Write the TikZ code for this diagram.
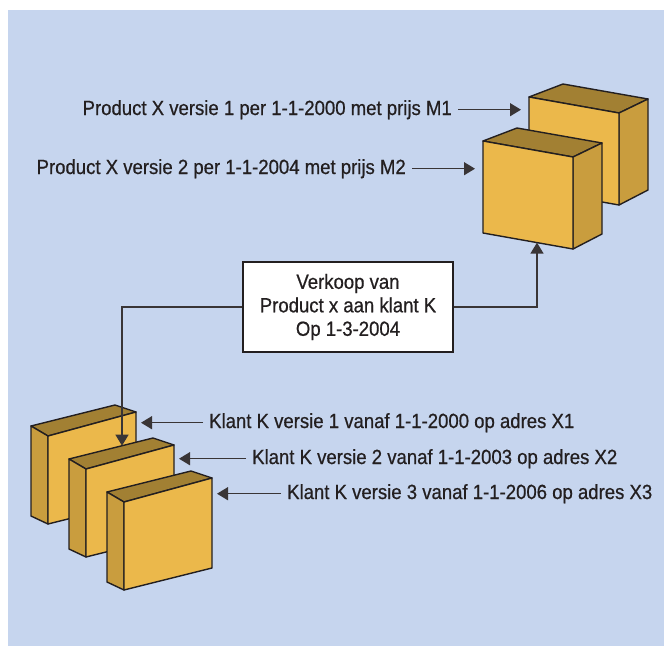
\documentclass[tikz,border=0pt]{standalone}
\usepackage{fontspec}
\setmainfont[FakeStretch=0.905, FakeBold=0.6]{Liberation Sans}
\usetikzlibrary{arrows.meta}

\definecolor{bgblue}{HTML}{C6D5EE}
\definecolor{boxfront}{HTML}{EBB84B}
\definecolor{boxside}{HTML}{C99D3E}
\definecolor{boxtop}{HTML}{A28033}
\definecolor{ink}{HTML}{231F20}

\tikzset{
  face/.style={draw=ink, line width=1.4pt, line join=round},
  arr/.style={draw=ink!90, line width=1.3pt, -{Triangle[length=11pt,width=13pt]}},
  lbl/.style={font=\fontsize{20.5}{23.5}\selectfont, text=ink, inner xsep=6pt, inner ysep=0pt},
  salebox/.style={draw=ink, line width=1.3pt, fill=white, minimum width=210pt,
    minimum height=90pt, align=center, font=\fontsize{20.5}{23.5}\selectfont, text=ink},
}

% product version block: front face faces the viewer, side face on the right
\newcommand{\prodbox}[3]{%
  \begin{scope}[shift={(#2,#3)}]
    \path[face, fill=boxtop]   (0,0) -- (34,-13) -- (119,2) -- (90,16) -- cycle;
    \path[face, fill=boxside]  (90,16) -- (119,2) -- (119,93) -- (90,108) -- cycle;
    \path[face, fill=boxfront] (0,0) -- (90,16) -- (90,108) -- (0,92) -- cycle;
    \coordinate (#1-left) at (0,46);
    \coordinate (#1-bottom) at (54,101.6);
  \end{scope}}

% client version block: side face on the left
\newcommand{\clientbox}[3]{%
  \begin{scope}[shift={(#2,#3)}]
    \path[face, fill=boxtop]   (0,0) -- (-17,-10) -- (67,-31) -- (88,-24) -- cycle;
    \path[face, fill=boxside]  (0,0) -- (-17,-10) -- (-17,80) -- (0,88) -- cycle;
    \path[face, fill=boxfront] (0,0) -- (88,-24) -- (88,66) -- (0,88) -- cycle;
    \coordinate (#1-right) at (88,20);
    \coordinate (#1-top) at (36,-23.3);
  \end{scope}}

\begin{document}
\begin{tikzpicture}[x=1pt, y=-1pt]
  \useasboundingbox (0,0) rectangle (664,646);
  \fill[bgblue] (8,10) rectangle (664,646);

  % client versions
  \clientbox{ka}{48}{436}
  \clientbox{kb}{86}{469}
  \clientbox{kc}{124}{502}

  % product versions
  \prodbox{pa}{529}{97}
  \prodbox{pb}{483}{141}

  % labels
  \node[lbl, anchor=base east] (pat) at (458,115) {Product X versie 1 per 1-1-2000 met prijs M1};
  \node[lbl, anchor=base east] (pbt) at (412,174) {Product X versie 2 per 1-1-2004 met prijs M2};
  \node[lbl, anchor=base west] (kat) at (203,428) {Klant K versie 1 vanaf 1-1-2000 op adres X1};
  \node[lbl, anchor=base west] (kbt) at (246,464) {Klant K versie 2 vanaf 1-1-2003 op adres X2};
  \node[lbl, anchor=base west] (kct) at (281,499) {Klant K versie 3 vanaf 1-1-2006 op adres X3};

  \draw[arr, shorten >=8pt] (pat.east) -- (pat.east -| pa-left);
  \draw[arr, shorten >=8pt] (pbt.east) -- (pbt.east -| pb-left);
  \draw[arr, shorten >=5pt] (kat.west) -- (kat.west -| ka-right);
  \draw[arr, shorten >=5pt] (kbt.west) -- (kbt.west -| kb-right);
  \draw[arr, shorten >=5pt] (kct.west) -- (kct.west -| kc-right);

  % the sale refers to one product version and one client version
  \node[salebox] (sale) at (348,307) {Verkoop van\\Product x aan klant K\\Op 1-3-2004};
  \draw[arr] (sale.east) -| (pb-bottom);
  \draw[arr] (sale.west) -| (kb-top);
\end{tikzpicture}
\end{document}
